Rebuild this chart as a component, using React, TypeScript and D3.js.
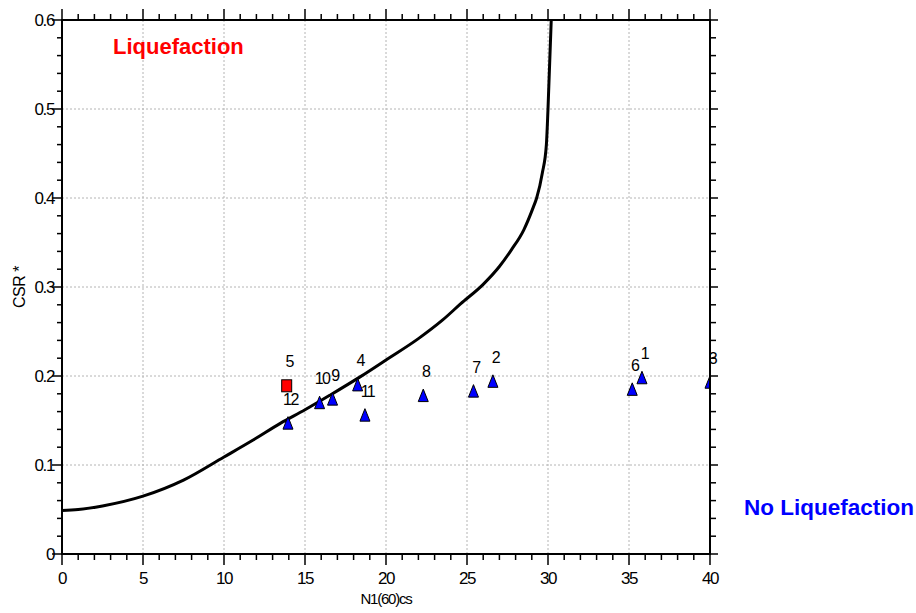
import { useMemo } from "react";
import * as d3 from "d3";

const WIDTH = 916;
const HEIGHT = 613;
const MARGIN = { top: 20, right: 206, bottom: 59, left: 62 };

// boundary curve (N1(60)cs, CSR*)
const curveN = [0, 1, 2.5, 5, 7.5, 10, 11.8, 13.5, 15, 16.5, 18.4, 20, 22, 23.5, 24.6, 26, 27, 27.75, 28.5, 29.1, 29.3, 29.65, 29.9, 30.0, 30.2];
const curveCSR = [0.049, 0.05, 0.054, 0.065, 0.083, 0.109, 0.128, 0.147, 0.162, 0.178, 0.199, 0.218, 0.242, 0.263, 0.281, 0.303, 0.323, 0.342, 0.364, 0.39, 0.4, 0.428, 0.46, 0.5, 0.6];

// test points
const pointLabels = ["1", "2", "3", "4", "5", "6", "7", "8", "9", "10", "11", "12"];
const pointN = [35.8, 26.6, 40.0, 18.25, 13.87, 35.2, 25.4, 22.3, 16.7, 15.9, 18.7, 13.95];
const pointCSR = [0.198, 0.194, 0.193, 0.19, 0.189, 0.185, 0.183, 0.178, 0.174, 0.17, 0.156, 0.147];
const pointLiquefied = [false, false, false, false, true, false, false, false, false, false, false, false];

const xMajor = [0, 5, 10, 15, 20, 25, 30, 35, 40];
const yMajor = [0, 0.1, 0.2, 0.3, 0.4, 0.5, 0.6];
const yMajorLabels = ["0", "0.1", "0.2", "0.3", "0.4", "0.5", "0.6"];

const FONT = "'Liberation Sans', Arial, sans-serif";

export default function App() {
  const innerW = WIDTH - MARGIN.left - MARGIN.right;
  const innerH = HEIGHT - MARGIN.top - MARGIN.bottom;
  const x = useMemo(() => d3.scaleLinear().domain([0, 40]).range([MARGIN.left, MARGIN.left + innerW]), [innerW]);
  const y = useMemo(() => d3.scaleLinear().domain([0, 0.6]).range([MARGIN.top + innerH, MARGIN.top]), [innerH]);

  const curve = d3
    .line<number>()
    .x((d) => x(curveN[d]))
    .y((d) => y(curveCSR[d]))
    .curve(d3.curveMonotoneX)(curveN.map((_, i) => i));

  const xMinor = d3.range(0, 41, 1).filter((v) => v % 5 !== 0);
  const yMinor = d3.range(0, 31, 1).map((v) => v * 0.02).filter((_, i) => i % 5 !== 0);

  const x0 = x(0);
  const x1 = x(40);
  const y0 = y(0);
  const y1 = y(0.6);

  return (
    <svg width={WIDTH} height={HEIGHT} style={{ position: "absolute", left: 0, top: 0, background: "#fff" }} fontFamily={FONT}>
      <defs>
        <clipPath id="plot-clip">
          <rect x={x0} y={y1} width={x1 - x0} height={y0 - y1} />
        </clipPath>
      </defs>

      {/* grid */}
      <g stroke="#b4b4b4" strokeWidth={1} strokeDasharray="2,2">
        {xMajor.slice(1, -1).map((v) => (
          <line key={"gx" + v} x1={x(v)} x2={x(v)} y1={y1} y2={y0} />
        ))}
        {yMajor.slice(1, -1).map((v) => (
          <line key={"gy" + v} x1={x0} x2={x1} y1={y(v)} y2={y(v)} />
        ))}
      </g>

      {/* boundary curve */}
      <path d={curve ?? ""} fill="none" stroke="#000" strokeWidth={3} strokeLinejoin="round" />

      {/* markers */}
      <g clipPath="url(#plot-clip)">
        {pointLabels.map((lab, i) => {
          const cx = x(pointN[i]);
          const cy = y(pointCSR[i]);
          return pointLiquefied[i] ? (
            <rect key={lab} x={cx - 5} y={cy - 6} width={10} height={12} fill="#ff0000" stroke="#000" strokeWidth={1} />
          ) : (
            <path key={lab} d={`M${cx},${cy - 6.5}L${cx + 5},${cy + 6}L${cx - 5},${cy + 6}Z`} fill="#0000ff" stroke="#000" strokeWidth={1} />
          );
        })}
      </g>
      <g fontSize={16} textAnchor="middle" fill="#000" letterSpacing={-1.5}>
        {pointLabels.map((lab, i) => (
          <text key={lab} x={x(pointN[i]) + 2.5} y={y(pointCSR[i]) - 18.5}>
            {lab}
          </text>
        ))}
      </g>

      {/* frame */}
      <g stroke="#000" strokeWidth={2} fill="none">
        <line x1={x0} x2={x1 + 1} y1={y0} y2={y0} />
        <line x1={x0} x2={x1 + 1} y1={y1} y2={y1} />
        <line x1={x0} x2={x0} y1={y1 - 1} y2={y0 + 1} />
        <line x1={x1} x2={x1} y1={y1 - 1} y2={y0 + 1} />
      </g>

      {/* ticks */}
      <g stroke="#000" strokeWidth={1.5}>
        {xMajor.map((v) => (
          <g key={"tx" + v}>
            <line x1={x(v)} x2={x(v)} y1={y0} y2={y0 + 11} />
            <line x1={x(v)} x2={x(v)} y1={y1} y2={y1 - 11} />
          </g>
        ))}
        {xMinor.map((v) => (
          <g key={"mx" + v}>
            <line x1={x(v)} x2={x(v)} y1={y0} y2={y0 + 6} />
            <line x1={x(v)} x2={x(v)} y1={y1} y2={y1 - 6} />
          </g>
        ))}
        {yMajor.map((v) => (
          <g key={"ty" + v}>
            <line x1={x0} x2={x0 - 10} y1={y(v)} y2={y(v)} />
            <line x1={x1} x2={x1 + 8} y1={y(v)} y2={y(v)} />
          </g>
        ))}
        {yMinor.map((v) => (
          <g key={"my" + v}>
            <line x1={x0} x2={x0 - 5} y1={y(v)} y2={y(v)} />
            <line x1={x1} x2={x1 + 6} y1={y(v)} y2={y(v)} />
          </g>
        ))}
      </g>

      {/* tick labels */}
      <g fontSize={17} fill="#000" letterSpacing={-1.4}>
        {xMajor.map((v) => (
          <text key={"lx" + v} x={x(v)} y={y0 + 30} textAnchor="middle">
            {v}
          </text>
        ))}
        {yMajor.map((v, i) => (
          <text key={"ly" + v} x={x0 - 8} y={y(v) + 6} textAnchor="end">
            {yMajorLabels[i]}
          </text>
        ))}
      </g>

      {/* axis titles */}
      <text x={(x0 + x1) / 2} y={604} textAnchor="middle" fontSize={15} letterSpacing={-1.2} fill="#000">
        N1(60)cs
      </text>
      <text transform={`translate(25, ${(y0 + y1) / 2}) rotate(-90)`} textAnchor="middle" fontSize={16} letterSpacing={-0.5} fill="#000">
        CSR *
      </text>

      {/* region labels */}
      <text x={113} y={54} fontSize={22} fontWeight="bold" fill="#ff0000">
        Liquefaction
      </text>
      <text x={744} y={515} fontSize={22.5} fontWeight="bold" fill="#0000ff">
        No Liquefaction
      </text>
    </svg>
  );
}
